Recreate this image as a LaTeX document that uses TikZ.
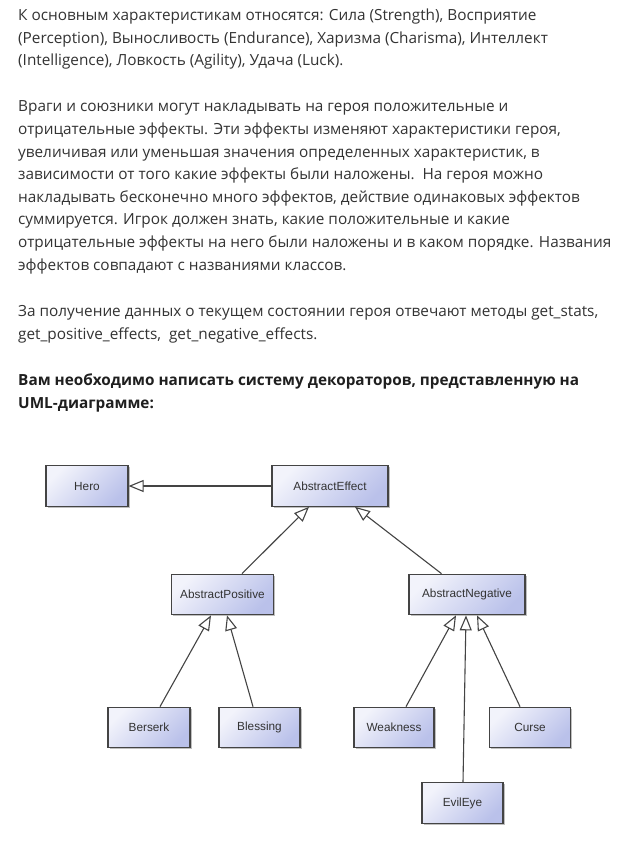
\documentclass[tikz,border=0pt]{standalone}
\usepackage{fontspec}
\setmainfont{Open Sans}
\newfontfamily\boxfont{Liberation Sans}
\usetikzlibrary{arrows.meta,shadows}
\definecolor{txt}{HTML}{333333}
\definecolor{boxlight}{HTML}{F2F3FB}
\definecolor{boxdark}{HTML}{BAC1EA}
\definecolor{edge}{HTML}{444444}
\begin{document}
\begin{tikzpicture}[x=1pt,y=-1pt,
  para/.style={anchor=base west,inner sep=0pt,text=txt,font=\fontsize{15.33}{18}\selectfont},
  umlbox/.style={draw=edge,line width=1.2pt,minimum height=40.5pt,inner sep=0pt,
    top color=boxlight,bottom color=boxdark,shading angle=45,
    drop shadow={shadow xshift=1.5pt,shadow yshift=-1.5pt,opacity=0.25,fill=black},
    text=black!80,font=\boxfont\fontsize{11.8}{13}\selectfont},
  inherit/.style={draw=edge,line width=1.1pt,-{Triangle[length=15pt,width=12pt,fill=white,line width=1.1pt]}}]
\useasboundingbox (0,0) rectangle (626,850);
\fill[white] (0,0) rectangle (626,850);
% text
\node[para] (l1) at (18,21) {К основным характеристикам относятся: Сила (Strength), Восприятие};
\node[para] (l2) at (18,43.5) {(Perception), Выносливость (Endurance), Харизма (Charisma), Интеллект};
\node[para] (l3) at (18,66) {(Intelligence), Ловкость (Agility), Удача (Luck).};
\node[para] (m1) at (18,112) {Враги и союзники могут накладывать на героя положительные и};
\node[para] (m2) at (18,135) {отрицательные эффекты. Эти эффекты изменяют характеристики героя,};
\node[para] (m3) at (18,157.5) {увеличивая или уменьшая значения определенных характеристик, в};
\node[para] (m4) at (18,180) {зависимости от того какие эффекты были наложены.\ \ На героя можно};
\node[para] (m5) at (18,202.5) {накладывать бесконечно много эффектов, действие одинаковых эффектов};
\node[para] (m6) at (18,225) {суммируется. Игрок должен знать, какие положительные и какие};
\node[para] (m7) at (18,247.5) {отрицательные эффекты на него были наложены и в каком порядке. Названия};
\node[para] (m8) at (18,270) {эффектов совпадают с названиями классов.};
\node[para] (n1) at (18,316.5) {За получение данных о текущем состоянии героя отвечают методы get\_stats,};
\node[para] (n2) at (18,339) {get\_positive\_effects,\ \ get\_negative\_effects.};
\node[para,font=\fontsize{15.33}{18}\selectfont\bfseries,text=black!88] (b1) at (18,385.5) {Вам необходимо написать систему декораторов, представленную на};
\node[para,font=\fontsize{15.33}{18}\selectfont\bfseries,text=black!88] (b2) at (18,408) {UML-диаграмме:};
% boxes
\node[umlbox,minimum width=82pt] (hero) at (87,486) {Hero};
\node[umlbox,minimum width=116pt] (ae) at (330,486) {AbstractEffect};
\node[umlbox,minimum width=102pt] (ap) at (222.5,594.5) {AbstractPositive};
\node[umlbox,minimum width=116pt] (an) at (467,594.5) {AbstractNegative};
\node[umlbox,minimum width=82pt] (berserk) at (149,727.5) {Berserk};
\node[umlbox,minimum width=81pt] (blessing) at (259.5,727.5) {Blessing};
\node[umlbox,minimum width=80pt] (weakness) at (394,727.5) {Weakness};
\node[umlbox,minimum width=81pt] (curse) at (530,727.5) {Curse};
\node[umlbox,minimum width=81pt] (evileye) at (462.5,803) {EvilEye};
% connectors
\draw[inherit] (ae.west) -- (hero.east);
\draw[inherit] ([xshift=19.5pt]ap.north) -- ([xshift=-21pt]ae.south);
\draw[inherit] ([xshift=-25.5pt]an.north) -- ([xshift=25pt]ae.south);
\draw[inherit] ([xshift=11pt]berserk.north) -- ([xshift=-11.5pt]ap.south);
\draw[inherit] ([xshift=-6.5pt]blessing.north) -- ([xshift=4.5pt]ap.south);
\draw[inherit] ([xshift=12pt]weakness.north) -- ([xshift=-11pt]an.south);
\draw[inherit] ([xshift=0.5pt]evileye.north) -- ([xshift=-1pt]an.south);
\draw[inherit] ([xshift=-10pt]curse.north) -- ([xshift=10pt]an.south);
\end{tikzpicture}
\end{document}
